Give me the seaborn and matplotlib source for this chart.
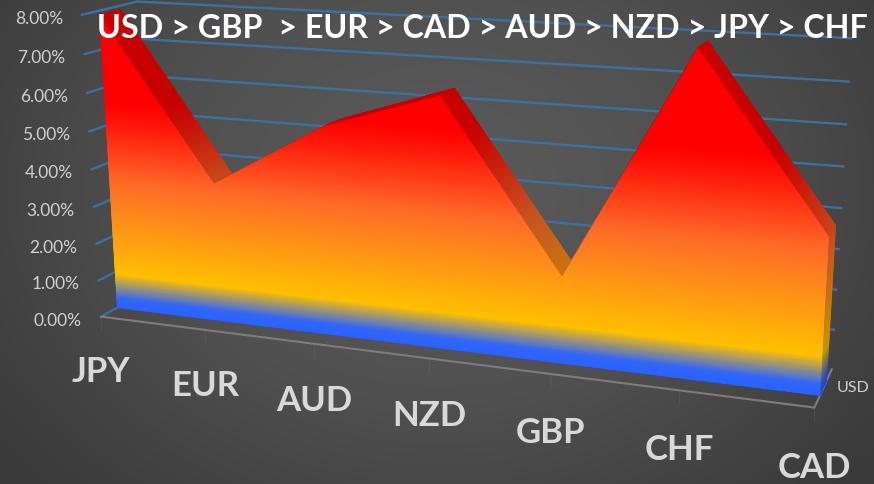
import numpy as np
import matplotlib.pyplot as plt
from matplotlib.colors import LinearSegmentedColormap, to_rgb
from matplotlib.patches import Polygon
import seaborn as sns

# chart data
categories = ['JPY', 'EUR', 'AUD', 'NZD', 'GBP', 'CHF', 'CAD']
values = [7.9, 3.7, 5.4, 6.4, 2.2, 7.9, 3.8]
y_ticks = [0, 1, 2, 3, 4, 5, 6, 7, 8]
series_name = 'USD'
title = 'USD > GBP  > EUR > CAD > AUD > NZD > JPY > CHF'

# the 3d box of the excel chart: (category, value, depth) -> pixel, fitted once
calib_3d = np.array([
    (0, 0, 0), (1, 0, 0), (2, 0, 0), (3, 0, 0), (4, 0, 0), (5, 0, 0), (6, 0, 0),
    (0, 8, 0), (0, 4, 0), (6, 0, 1), (6, 4, 1), (6, 8, 1), (0, 8, 1),
], dtype=float)
calib_px = np.array([
    (101, 317), (205, 330), (314, 344), (430, 359), (550, 374), (678, 390), (815, 408),
    (82, 14), (92, 169), (833, 368), (840, 208), (852, 39), (137, 2),
], dtype=float)

rows, rhs = [], []
for (a, b, c), (u, w) in zip(calib_3d, calib_px):
    rows.append([a, b, c, 1, 0, 0, 0, 0, -u * a, -u * b, -u * c])
    rows.append([0, 0, 0, 0, a, b, c, 1, -w * a, -w * b, -w * c])
    rhs += [u, w]
cam = np.append(np.linalg.lstsq(np.array(rows), np.array(rhs), rcond=None)[0], 1).reshape(3, 4)


def proj(i, v, d):
    i, v, d = np.broadcast_arrays(np.asarray(i, float), np.asarray(v, float), np.asarray(d, float))
    pts = np.stack([i, v, d, np.ones_like(i)], axis=-1) @ cam.T
    return pts[..., 0] / pts[..., 2], pts[..., 1] / pts[..., 2]


D_FRONT = 0.3
D_BACK = 0.68

sns.set_theme(style='dark')
plt.rcParams['font.family'] = ['Lato', 'DejaVu Sans']

fig = plt.figure(figsize=(8.74, 4.84), dpi=100)
ax = fig.add_axes([0, 0, 1, 1])

# radial grey background
gx, gy = np.meshgrid(np.arange(874), np.arange(484))
r = np.hypot((gx - 440) / 560, (gy - 190) / 430)
bg = LinearSegmentedColormap.from_list('bg', ['#5c5c5c', '#505050', '#3a3a3a'])
ax.imshow(np.clip(r, 0, 1), cmap=bg, vmin=0, vmax=1, extent=(0, 874, 484, 0), aspect='auto')


def line3d(i, v, d, color, lw):
    x, y = proj(i, v, d)
    sns.lineplot(x=x, y=y, sort=False, estimator=None, color=color, linewidth=lw, ax=ax)


grid_color = '#3f6f9e'
floor_color = '#7d7d7d'
last = len(categories) - 1
for t in y_ticks:
    line3d([0, 0], [t, t], [0, 1], grid_color, 1.7)
    if t > 0:
        line3d([0, last], [t, t], [1, 1], grid_color, 1.7)

line3d([0, last], [0, 0], [0, 0], floor_color, 1.5)
line3d([last, last], [0, 0], [0, 1], floor_color, 1.5)
for k in range(len(categories)):
    x0, y0 = proj(k, 0, 0)
    sns.lineplot(x=[x0, x0], y=[y0, y0 + 13], color=floor_color, linewidth=1.3, ax=ax)

# gradient runs with the value, not with the screen
stops = [(0, '#2a62ff'), (0.25, '#2f66fa'), (0.95, '#ffc000'), (2.5, '#ff8c1a'),
         (3.5, '#ff6a28'), (5.0, '#ff1a0a'), (5.6, '#ff0000'), (8, '#ff0000')]
cmap = LinearSegmentedColormap.from_list('area', [(s / 8, c) for s, c in stops])
dark = LinearSegmentedColormap.from_list(
    'area_dark', [(s / 8, tuple(0.78 * np.array(to_rgb(c)))) for s, c in stops])

# top faces of the ribbon, then the end cap
for k in range(last):
    s = np.linspace(0, 1, 60)
    seg_i = k + s
    seg_v = values[k] + (values[k + 1] - values[k]) * s
    dd = np.array([[D_FRONT], [D_BACK]])
    X, Y = proj(seg_i[None, :], seg_v[None, :], dd)
    ax.pcolormesh(X, Y, np.vstack([seg_v, seg_v]), cmap=dark, vmin=0, vmax=8,
                  shading='gouraud', zorder=3)

cap_v = np.linspace(0, values[-1], 60)
X, Y = proj(last, cap_v[None, :], np.array([[D_FRONT], [D_BACK]]))
ax.pcolormesh(X, Y, np.vstack([cap_v, cap_v]), cmap=dark, vmin=0, vmax=8,
              shading='gouraud', zorder=3)

# front face
idx = np.arange(len(categories))
outline = np.column_stack(proj(np.r_[0, idx, last], np.r_[0, values, 0], D_FRONT))
clip = Polygon(outline, closed=True, transform=ax.transData, fc='none', ec='none')
ax.add_patch(clip)
I, V = np.meshgrid(np.linspace(0, last, 60), np.linspace(0, 8.5, 200))
X, Y = proj(I, V, D_FRONT)
mesh = ax.pcolormesh(X, Y, V, cmap=cmap, vmin=0, vmax=8, shading='gouraud', zorder=4)
mesh.set_clip_path(clip)

# texts
for t in y_ticks:
    x, y = proj(0, t, 0)
    ax.text(x - 19, y + 4, f'{t:.2f}%', ha='right', va='center', color='#d0d0d0', fontsize=12.5)

for k, name in enumerate(categories):
    x, y = proj(k, 0, 0)
    ax.text(x, y + 55 + k * 0.9, name, ha='center', va='center', color='#d9d9d9',
            fontsize=25, fontweight='bold')

x, y = proj(last, 0, 0.5)
ax.text(x + 13, y + 0, series_name, ha='left', va='center', color='#d0d0d0', fontsize=11.5)
ax.text(482, 28, title, ha='center', va='center', color='white', fontsize=23.2,
        fontweight='bold', zorder=6)

ax.set_xlim(0, 874)
ax.set_ylim(484, 0)
ax.axis('off')
fig.savefig('out.png', dpi=100)
